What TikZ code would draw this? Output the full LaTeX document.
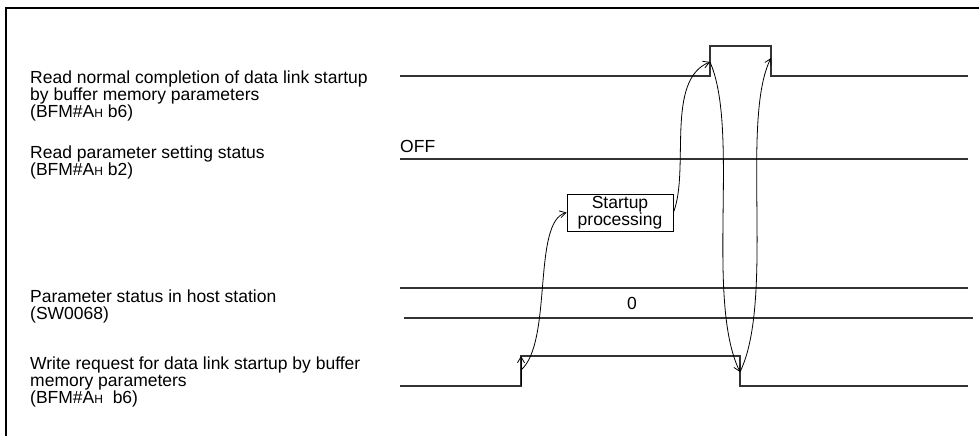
\documentclass[tikz,border=0pt]{standalone}
\usepackage{fontspec}
\setmainfont{Liberation Sans}
\usetikzlibrary{arrows.meta}
\newcommand{\smallH}{{\fontsize{12}{12}\selectfont H}}
\begin{document}
\begin{tikzpicture}[x=1pt,y=-1pt,
  sig/.style={draw=black!80,line width=1.2pt},
  conn/.style={draw=black,line width=0.8pt,-{Straight Barb[length=6pt,width=7pt]}},
  lbl/.style={anchor=base west,inner sep=0pt,align=left,font=\fontsize{17.5}{17}\selectfont}]
\useasboundingbox (0,0) rectangle (979,436);
\draw[line width=1.5pt] (6,436) -- (6,8) -- (979,8);
% signal coordinates
\coordinate (a0) at (400,76);
\coordinate (a1) at (710,76);
\coordinate (a2) at (710,46);
\coordinate (a3) at (771,46);
\coordinate (a4) at (771,76);
\coordinate (a5) at (968,76);
\coordinate (b0) at (400,159);
\coordinate (b1) at (968,159);
\coordinate (c0) at (400,288);
\coordinate (c1) at (968,288);
\coordinate (d0) at (404,318);
\coordinate (d1) at (973,318);
\coordinate (w0) at (400,386);
\coordinate (w1) at (521,386);
\coordinate (w2) at (521,356);
\coordinate (w3) at (740,356);
\coordinate (w4) at (740,386);
\coordinate (w5) at (968,386);
\coordinate (e1) at (521,370);
\coordinate (p1) at (710,62);
\coordinate (p2) at (771,58);
\coordinate (q) at (740,372);
\draw[sig] (a0) -- (a1) -- (a2) -- (a3) -- (a4) -- (a5);
\draw[sig] (b0) -- (b1);
\draw[sig] (c0) -- (c1);
\draw[sig] (d0) -- (d1);
\draw[sig] (w0) -- (w1) -- (w2) -- (w3) -- (w4) -- (w5);
% labels (base anchor = baseline of last line)
\node[lbl] (t1) at (30,117) {Read normal completion of data link startup\\by buffer memory parameters\\(BFM\#A\smallH{} b6)};
\node[lbl] (t2) at (30,175) {Read parameter setting status\\(BFM\#A\smallH{} b2)};
\node[lbl] (off) at (400,152) {OFF};
\node[lbl] (t3) at (30,319) {Parameter status in host station\\(SW0068)};
\node[anchor=base,inner sep=0pt,font=\fontsize{17.5}{17}\selectfont] (zero) at (632,309) {0};
\node[lbl] (t4) at (30,403) {Write request for data link startup by buffer\\memory parameters\\(BFM\#A\smallH{}~~b6)};
\node[draw,line width=0.8pt,minimum width=106pt,minimum height=37pt,align=center,inner sep=0pt,font=\fontsize{17.5}{16}\selectfont] (sp) at (620,212.5) {Startup\\processing};
% connectors
\draw[conn] (w1) -- (w2);
\draw[conn] (e1) .. controls (553,342) and (532,222) .. (sp.west);
\draw[conn] (sp.east) .. controls (690,170) and (665,80) .. (p1);
\draw[conn] (p1) .. controls (740,130) and (705,300) .. (q);
\draw[conn] (q) .. controls (775,300) and (740,120) .. (p2);
\end{tikzpicture}
\end{document}
